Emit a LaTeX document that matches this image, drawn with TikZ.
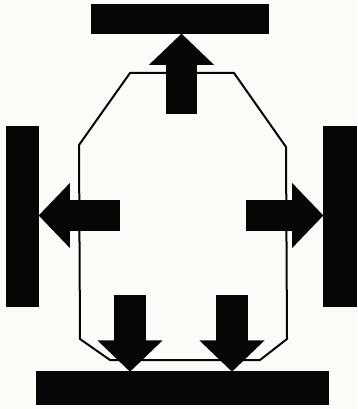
\documentclass[tikz,border=0pt]{standalone}
\usetikzlibrary{arrows.meta,positioning,calc}
\usepackage{xcolor}
\definecolor{Paper}{HTML}{FCFBF8}
\definecolor{Ink}{HTML}{060606}
\tikzset{
  bar/.style={rectangle,fill=Ink,draw=none,inner sep=0pt},
  push/.style={Ink,line width=23.6pt,-{Triangle[length=23.5pt,width=47.5pt]},shorten >=-0.5pt},
  hull/.style={Ink,line width=1.5pt,line join=miter}
}
\begin{document}
\begin{tikzpicture}[x=0.75pt,y=-0.75pt]
\fill[Paper] (0,0) rectangle (357,409);
\useasboundingbox (0,0) rectangle (357,409);
% hull outline
\draw[hull] (130,73) -- (234,73) -- (286,147) -- (287,339) -- (260,360) -- (110,360) -- (80,339) -- (79,145) -- cycle;
% bars
\node[bar,minimum width=133.5pt,minimum height=22.5pt] (topbar) at (180,19) {};
\node[bar,minimum width=219.75pt,minimum height=25pt] (bottombar) at (182.5,388) {};
\node[bar,minimum width=24.75pt,minimum height=135.75pt] (leftbar) at (22.5,216.5) {};
\node[bar,minimum width=25.5pt,minimum height=135.75pt] (rightbar) at (340,216.5) {};
% free ends of the arrows
\coordinate (topstart) at (181.5,114);
\coordinate (leftstart) at (120,215.5);
\coordinate (rightstart) at (246,215.5);
\coordinate (foota) at (130,295);
\coordinate (footb) at (232,295);
% arrows
\draw[push] (topstart) -- (topstart |- topbar.south);
\draw[push] (leftstart) -- (leftstart -| leftbar.east);
\draw[push] (rightstart) -- (rightstart -| rightbar.west);
\draw[push] (foota) -- (foota |- bottombar.north);
\draw[push] (footb) -- (footb |- bottombar.north);
\end{tikzpicture}
\end{document}
